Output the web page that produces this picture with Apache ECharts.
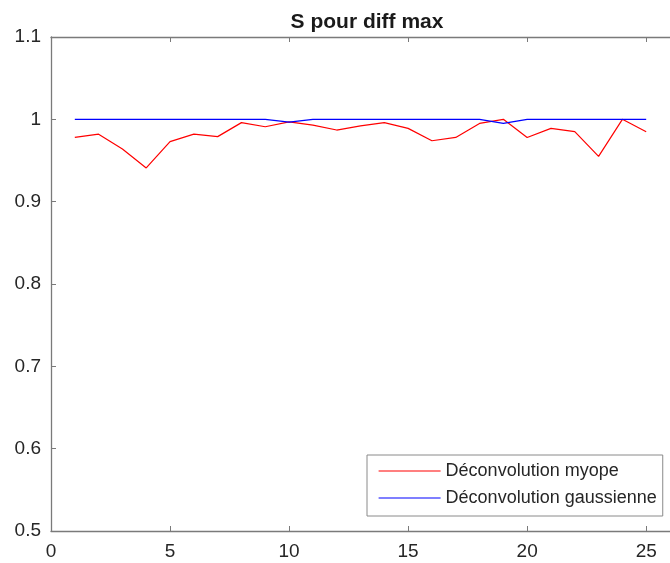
<!DOCTYPE html>
<html>
<head>
<meta charset="utf-8">
<script src="https://cdn.jsdelivr.net/npm/echarts@6/dist/echarts.min.js"></script>
<style>
html,body{margin:0;padding:0;background:#fff;}
#c{width:670px;height:563px;}
</style>
</head>
<body>
<div id="c"></div>
<script>
var xValues = [1,2,3,4,5,6,7,8,9,10,11,12,13,14,15,16,17,18,19,20,21,22,23,24,25];
var myope = [0.978,0.982,0.964,0.941,0.973,0.982,0.979,0.996,0.991,0.997,0.993,0.987,0.992,0.996,0.989,0.974,0.978,0.995,1.0,0.978,0.989,0.985,0.955,1.0,0.985];
var gauss = [1,1,1,1,1,1,1,1,1,0.9966,1,1,1,1,1,1,1,1,0.995,1,1,1,1,1,1];
var seriesNames = ['Déconvolution myope','Déconvolution gaussienne'];
var titleText = 'S pour diff max';

function pairs(ys){ return xValues.map(function(x,i){ return [x, ys[i]]; }); }
var FONT = 'Liberation Sans, Arial, Helvetica, sans-serif';
var axisColor = '#7a7a7a';
var labelColor = '#262626';
var chart = echarts.init(document.getElementById('c'));
chart.setOption({
  animation: false,
  backgroundColor: '#ffffff',
  title: {
    text: titleText, left: 362, top: 7, textAlign: 'center',
    textStyle: {fontFamily: FONT, fontSize: 21, fontWeight: 'bold', color: '#1a1a1a'}
  },
  grid: {left: 51, top: 37, bottom: 32, right: -7, containLabel: false},
  legend: {
    orient: 'vertical', left: 367, top: 455,
    padding: [7, 6, 9, 11],
    itemWidth: 62, itemHeight: 14, itemGap: 9,
    borderColor: '#8a8a8a', borderWidth: 1, backgroundColor: '#ffffff',
    itemStyle: {opacity: 0},
    lineStyle: {width: 1.2},
    textStyle: {fontFamily: FONT, fontSize: 18, color: labelColor},
    data: seriesNames
  },
  xAxis: [{
    type: 'value', min: 0, max: 26, interval: 5, position: 'bottom',
    axisLine: {show: true, onZero: false, lineStyle: {color: axisColor, width: 1.3}},
    axisTick: {show: true, inside: true, length: 5, lineStyle: {color: axisColor}},
    axisLabel: {showMaxLabel: false, margin: 11, fontFamily: FONT, fontSize: 19, color: labelColor},
    splitLine: {show: false}
  },{
    type: 'value', min: 0, max: 26, interval: 5, position: 'top',
    axisLine: {show: true, onZero: false, lineStyle: {color: axisColor, width: 1.3}},
    axisTick: {show: true, inside: true, length: 5, lineStyle: {color: axisColor}},
    axisLabel: {show: false},
    splitLine: {show: false}
  }],
  yAxis: {
    type: 'value', min: 0.5, max: 1.1, interval: 0.1,
    axisLine: {show: true, onZero: false, lineStyle: {color: axisColor, width: 1.3}},
    axisTick: {show: true, inside: true, length: 5, lineStyle: {color: axisColor}},
    axisLabel: {margin: 10, fontFamily: FONT, fontSize: 19, color: labelColor,
      formatter: function(v){ return String(parseFloat(v.toFixed(2))); }},
    splitLine: {show: false}
  },
  series: [{
    name: seriesNames[0], type: 'line', data: pairs(myope), symbol: 'none',
    lineStyle: {color: '#ff0000', width: 1.2}, itemStyle: {color: '#ff0000'}
  },{
    name: seriesNames[1], type: 'line', data: pairs(gauss), symbol: 'none',
    lineStyle: {color: '#0000ff', width: 1.2}, itemStyle: {color: '#0000ff'}
  }]
});
</script>
</body>
</html>
